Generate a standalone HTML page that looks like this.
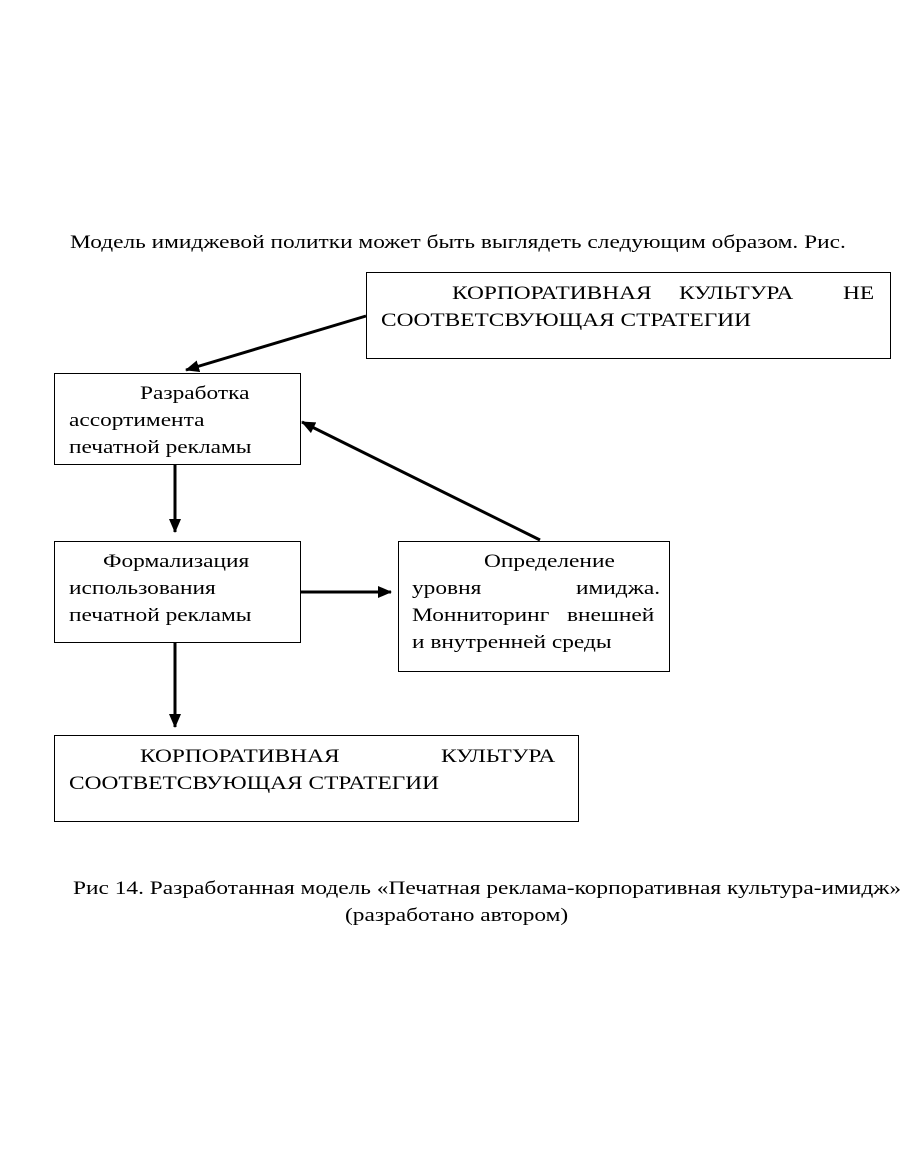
<!DOCTYPE html>
<html><head><meta charset="utf-8"><style>
body{margin:0;width:910px;height:1155px;background:#fff;position:relative;font-family:"Liberation Serif",serif;font-size:19px;color:#000;overflow:hidden}
.t{position:absolute;white-space:nowrap;line-height:27px;transform:scaleX(1.23);transform-origin:0 0}
.b{position:absolute;border:1.5px solid #000;box-sizing:border-box}
</style></head><body>
<div class="t" style="left:70px;top:229px">Модель имиджевой политки может быть выглядеть следующим образом. Рис.</div>

<div class="b" style="left:366px;top:272px;width:525px;height:87px"></div>
<div class="t" style="left:452px;top:280px">КОРПОРАТИВНАЯ</div>
<div class="t" style="left:679px;top:280px">КУЛЬТУРА</div>
<div class="t" style="left:843px;top:280px">НЕ</div>
<div class="t" style="left:381px;top:307px">СООТВЕТСВУЮЩАЯ СТРАТЕГИИ</div>

<div class="b" style="left:54px;top:373px;width:247px;height:92px"></div>
<div class="t" style="left:140px;top:380px">Разработка</div>
<div class="t" style="left:69px;top:407px">ассортимента</div>
<div class="t" style="left:69px;top:434px">печатной рекламы</div>

<div class="b" style="left:54px;top:541px;width:247px;height:102px"></div>
<div class="t" style="left:103px;top:548px">Формализация</div>
<div class="t" style="left:69px;top:575px">использования</div>
<div class="t" style="left:69px;top:602px">печатной рекламы</div>

<div class="b" style="left:398px;top:541px;width:272px;height:131px"></div>
<div class="t" style="left:484px;top:548px">Определение</div>
<div class="t" style="left:412px;top:575px">уровня</div>
<div class="t" style="left:576px;top:575px">имиджа.</div>
<div class="t" style="left:412px;top:602px">Монниторинг</div>
<div class="t" style="left:567px;top:602px">внешней</div>
<div class="t" style="left:412px;top:629px">и внутренней среды</div>

<div class="b" style="left:54px;top:735px;width:525px;height:87px"></div>
<div class="t" style="left:140px;top:743px">КОРПОРАТИВНАЯ</div>
<div class="t" style="left:441px;top:743px">КУЛЬТУРА</div>
<div class="t" style="left:69px;top:770px">СООТВЕТСВУЮЩАЯ СТРАТЕГИИ</div>

<div class="t" style="left:73px;top:875px">Рис 14. Разработанная модель «Печатная реклама-корпоративная культура-имидж»</div>
<div class="t" style="left:345px;top:902px">(разработано автором)</div>

<svg width="910" height="1155" style="position:absolute;left:0;top:0">
<defs><marker id="a" markerWidth="14" markerHeight="12" refX="13" refY="6" orient="auto" markerUnits="userSpaceOnUse"><path d="M0,0L14,6L0,12z"/></marker></defs>
<g stroke="#000" stroke-width="3" fill="none" marker-end="url(#a)">
<line x1="366" y1="316" x2="186" y2="370"/>
<line x1="540" y1="540" x2="302" y2="422"/>
<line x1="175" y1="465" x2="175" y2="532"/>
<line x1="300" y1="592" x2="391" y2="592"/>
<line x1="175" y1="643" x2="175" y2="727"/>
</g></svg>
</body></html>
